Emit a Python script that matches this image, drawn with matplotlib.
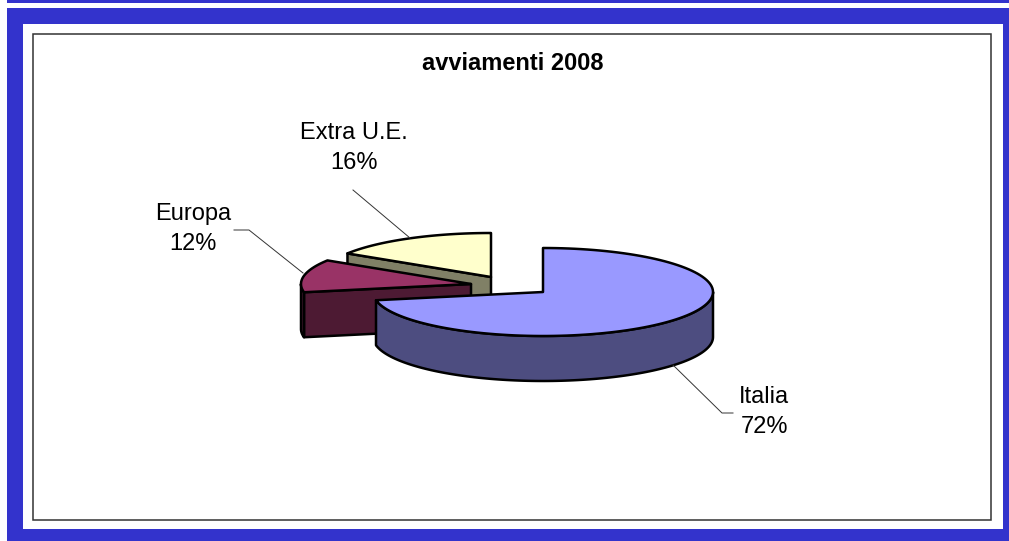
import numpy as np
import matplotlib
matplotlib.use("Agg")
import matplotlib.pyplot as plt
from matplotlib.patches import Rectangle

categories = ["Italia", "Europa", "Extra U.E."]
shares = [72, 12, 16]
title = "avviamenti 2008"

top_colors = ["#9999FF", "#993366", "#FFFFCC"]
side_colors = ["#4D4D80", "#4D1A33", "#808066"]
BLUE = "#3333CC"
W, H = 1009, 541
RX, RY, DEPTH = 170, 44, 45
centres = [(543, 292), (471, 284), (491, 277)]
label_pos = [(764, 412), (193, 229), (354, 148)]
leaders = [[(673, 365), (722, 413), (733, 413)],
           [(303, 273), (249, 230), (234, 230)],
           [(410, 238), (353, 190)]]

fig = plt.figure(figsize=(W / 100, H / 100), dpi=100)
ax = fig.add_axes([0, 0, 1, 1])
ax.set_xlim(0, W)
ax.set_ylim(H, 0)
ax.axis("off")
plt.rcParams["font.family"] = ["Liberation Sans", "DejaVu Sans"]

# slide background: blue band on white
ax.add_patch(Rectangle((7, 0), W - 7, 2.5, fc=BLUE, ec="none"))
ax.add_patch(Rectangle((7, 8), W - 7, H - 8, fc=BLUE, ec="none"))
ax.add_patch(Rectangle((23, 24), 980, 505, fc="white", ec="none"))
ax.add_patch(Rectangle((33, 34), 958, 486, fc="white", ec="#333333", lw=1.1))

ax.text(513, 64, title, ha="center", va="center", fontsize=17, fontweight="bold", color="black")

def rim(c, a0, a1, n=120):
    t = np.radians(np.linspace(a0, a1, n))
    return c[0] + RX * np.sin(t), c[1] - RY * np.cos(t)

LW = 1.8
edges = np.cumsum([0] + shares) * 3.6
for i in [2, 1, 0]:  # back to front
    a0, a1 = edges[i], edges[i + 1]
    c = centres[i]
    x, y = rim(c, a0, a1)
    # radial cut faces: only those turned towards the viewer
    visible = []
    if 180 < a0 < 360:
        visible.append(0)
    if 0 < a1 < 180:
        visible.append(-1)
    for j in visible:
        fx = [c[0], x[j], x[j], c[0]]
        fy = [c[1], y[j], y[j] + DEPTH, c[1] + DEPTH]
        ax.fill(fx, fy, fc=side_colors[i], ec="black", lw=LW, joinstyle="round")
    # outer wall: only the part of the rim that faces the viewer
    lo, hi = max(a0, 90), min(a1, 270)
    if lo < hi:
        wx, wy = rim(c, lo, hi)
        ax.fill(np.r_[wx, wx[::-1]], np.r_[wy, wy[::-1] + DEPTH],
                fc=side_colors[i], ec="black", lw=LW, joinstyle="round")
    ax.fill(np.r_[c[0], x], np.r_[c[1], y], fc=top_colors[i], ec="black", lw=LW, joinstyle="round")

for name, share, (lx, ly), pts in zip(categories, shares, label_pos, leaders):
    ax.text(lx, ly, f"{name}\n{share}%", ha="center", va="center", fontsize=17,
            color="black", linespacing=1.48)
    px, py = zip(*pts)
    ax.plot(px, py, color="#333333", lw=0.7)

fig.savefig("out.png", dpi=100)
